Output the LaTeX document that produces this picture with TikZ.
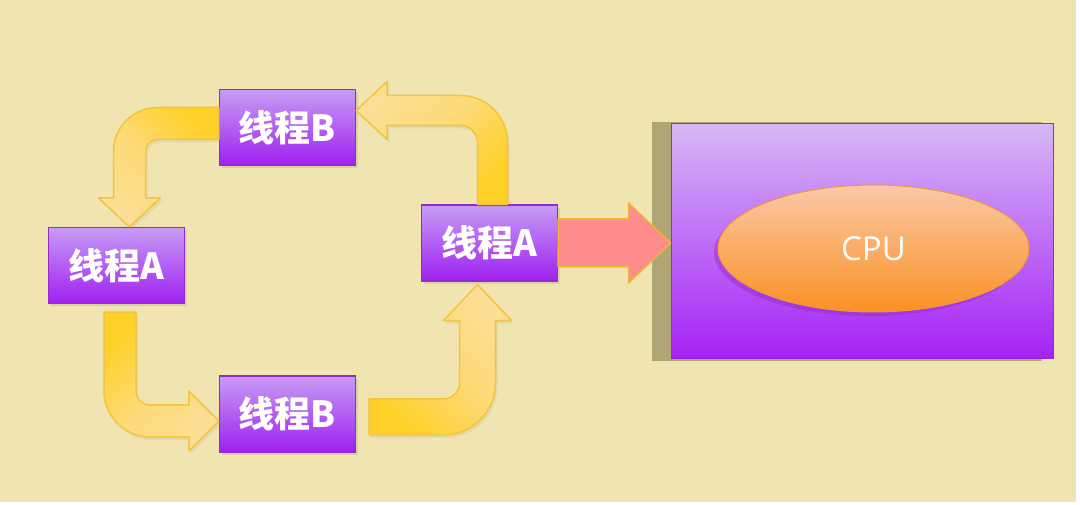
\documentclass[tikz,border=0pt]{standalone}
\usepackage{fontspec}
\usetikzlibrary{calc, shadows, shapes.geometric}
\newfontfamily\cjk{Noto Sans CJK SC}
\newfontfamily\latf{Open Sans}
\definecolor{fon}{RGB}{240,229,176}
\definecolor{fioletS}{RGB}{198,156,245}
\definecolor{fioletT}{RGB}{160,32,240}
\definecolor{fioletK}{RGB}{150,40,205}
\definecolor{cpuS}{RGB}{214,184,246}
\definecolor{cpuT}{RGB}{165,34,245}
\definecolor{yadroS}{RGB}{250,200,168}
\definecolor{yadroT}{RGB}{250,145,35}
\definecolor{yadroK}{RGB}{240,150,60}
\definecolor{zhelT}{RGB}{255,208,40}
\definecolor{zhelS}{RGB}{253,222,150}
\definecolor{zhelK}{RGB}{243,196,62}
\definecolor{rozov}{RGB}{255,140,140}
\definecolor{rozovK}{RGB}{245,180,50}
\definecolor{ten}{RGB}{168,160,112}

\begin{document}
\begin{tikzpicture}[x=1pt, y=1pt,
    potok/.style={draw=fioletK, line width=1.2pt, top color=fioletS, bottom color=fioletT,
      minimum width=136pt, minimum height=76pt, inner sep=0pt, text=white,
      font=\cjk\bfseries\fontsize{36}{42}\selectfont,
      drop shadow={shadow xshift=2pt, shadow yshift=-3pt, opacity=0.2}},
    strelka/.style={draw=zhelK, line width=1.5pt, line join=round,
      drop shadow={shadow xshift=2pt, shadow yshift=-3pt, opacity=0.12}},
  ]
	% Фон
	\useasboundingbox (0,0) rectangle (1080,505);
	\fill[white] (0,0) rectangle (1080,505);
	\fill[fon] (0,3) rectangle (1076,505);
	
	% Процессор и ядро
	\node[draw=fioletK, line width=1pt, top color=cpuS, bottom color=cpuT,
	  minimum width=382pt, minimum height=235pt,
	  drop shadow={shadow xshift=-15pt, shadow yshift=0pt, shadow scale=1.02, fill=ten, opacity=0.9}]
	  (CPU) at (862,263.5) {};
	\node[ellipse, draw=yadroK, line width=1pt, top color=yadroS, bottom color=yadroT,
	  minimum width=311pt, minimum height=127pt, inner sep=0pt, text=white,
	  font=\latf\fontsize{33}{38}\selectfont,
	  drop shadow={shadow xshift=-4pt, shadow yshift=-4pt, fill=fioletK, opacity=0.45}]
	  (core) at (873.5,256.5) {CPU};
	
	% Потоки
	\node[potok] (B1) at (287.5,377.5) {线程B};
	\node[potok] (A1) at (116.5,239.5) {线程A};
	\node[potok] (A2) at (489.5,262) {线程A};
	\node[potok] (B2) at (287.5,91) {线程B};
	
	% Концы стрелок
	\coordinate (S1) at ($(B1.west)+(0,4)$);
	\coordinate (T1) at ($(A1.north)+(13,0)$);
	\coordinate (S2) at ($(A2.north)+(3,0)$);
	\coordinate (T2) at ($(B1.east)+(0,17)$);
	\coordinate (S3) at ($(A1.south)+(3.5,-8)$);
	\coordinate (T3) at ($(B2.west)+(0,-7)$);
	\coordinate (S4) at ($(B2.east)+(13,-3)$);
	\coordinate (T4) at ($(A2.south)+(-12,-3)$);
	\coordinate (T5) at (A2.east -| CPU.west);
	
	% B -> A (слева)
	\draw[strelka, top color=zhelT, bottom color=zhelS, middle color=zhelS!70!zhelT, shading angle=-45]
	  ($(S1)+(0,16)$) -- ($(S1 -| T1)+(28,16)$) arc[start angle=90, end angle=180, radius=44pt]
	  -- ($(T1)+(-16,29)$) -- ($(T1)+(-31,29)$) -- (T1) -- ($(T1)+(31,29)$) -- ($(T1)+(16,29)$)
	  -- ($(S1 -| T1)+(16,-28)$) arc[start angle=180, end angle=90, radius=12pt]
	  -- ($(S1)+(0,-16)$) -- cycle;
	
	% A (справа) -> B
	\draw[strelka, top color=zhelS, bottom color=zhelT, middle color=zhelS!70!zhelT, shading angle=45]
	  ($(S2)+(15,0)$) -- ($(S2 |- T2)+(15,-32)$) arc[start angle=0, end angle=90, radius=47pt]
	  -- ($(T2)+(31,15)$) -- ($(T2)+(31,29)$) -- (T2) -- ($(T2)+(31,-29)$) -- ($(T2)+(31,-15)$)
	  -- ($(S2 |- T2)+(-32,-15)$) arc[start angle=90, end angle=0, radius=17pt]
	  -- ($(S2)+(-15,0)$) -- cycle;
	
	% A (слева) -> B
	\draw[strelka, top color=zhelT, bottom color=zhelS, middle color=zhelS!70!zhelT, shading angle=45]
	  ($(S3)+(-16,0)$) -- ($(S3 |- T3)+(-16,30)$) arc[start angle=180, end angle=270, radius=46pt]
	  -- ($(T3)+(-30,-16)$) -- ($(T3)+(-30,-30)$) -- (T3) -- ($(T3)+(-30,30)$) -- ($(T3)+(-30,16)$)
	  -- ($(S3 |- T3)+(30,16)$) arc[start angle=270, end angle=180, radius=14pt]
	  -- ($(S3)+(16,0)$) -- cycle;
	
	% B -> A (справа)
	\draw[strelka, top color=zhelS, bottom color=zhelT, middle color=zhelS!70!zhelT, shading angle=-45]
	  ($(S4)+(0,-18)$) -- ($(T4 |- S4)+(-34,-18)$) arc[start angle=270, end angle=360, radius=52pt]
	  -- ($(T4)+(18,-36)$) -- ($(T4)+(34,-36)$) -- (T4) -- ($(T4)+(-34,-36)$) -- ($(T4)+(-18,-36)$)
	  -- ($(T4 |- S4)+(-18,34)$) arc[start angle=0, end angle=-90, radius=16pt]
	  -- ($(S4)+(0,18)$) -- cycle;
	
	% A -> CPU
	\draw[draw=rozovK, fill=rozov, line width=1.5pt, line join=round]
	  ($(A2.east)+(0,24)$) -- ($(T5)+(-42,24)$) -- ($(T5)+(-42,40)$) -- (T5)
	  -- ($(T5)+(-42,-40)$) -- ($(T5)+(-42,-24)$) -- ($(A2.east)+(0,-24)$) -- cycle;
\end{tikzpicture}
\end{document}
